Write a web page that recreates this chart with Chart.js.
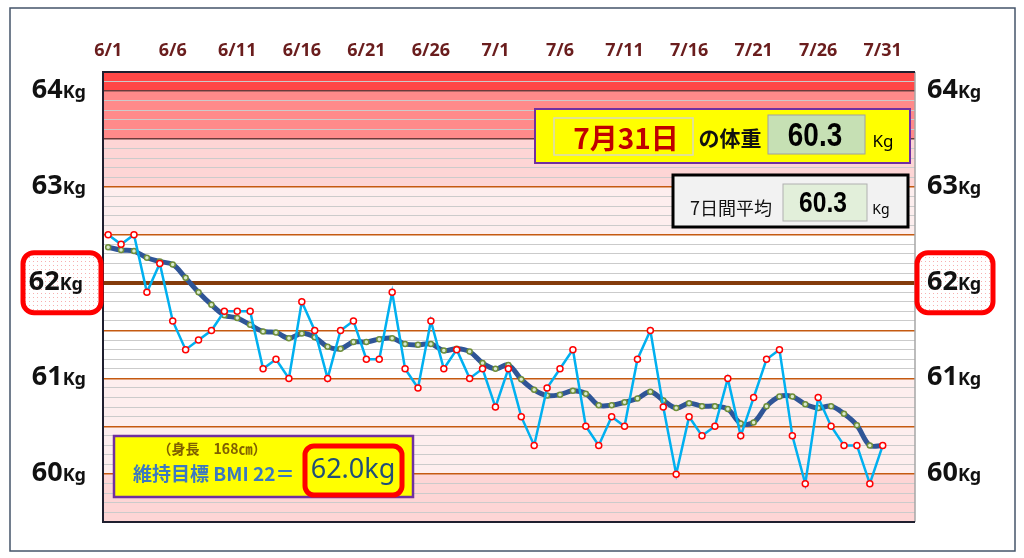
<!DOCTYPE html>
<html>
<head>
<meta charset="utf-8">
<script src="https://cdn.jsdelivr.net/npm/chart.js@4.4.0/dist/chart.umd.min.js"></script>
<style>
html, body { margin: 0; padding: 0; background: #fff; }
#wrap { width: 1024px; height: 558px; position: relative; }
</style>
</head>
<body>
<div id="wrap"><canvas id="c"></canvas></div>
<script>
// daily dates 6/1 .. 7/31
const dates = [
    '6/1','6/2','6/3','6/4','6/5','6/6','6/7','6/8','6/9','6/10',
    '6/11','6/12','6/13','6/14','6/15','6/16','6/17','6/18','6/19','6/20',
    '6/21','6/22','6/23','6/24','6/25','6/26','6/27','6/28','6/29','6/30',
    '7/1','7/2','7/3','7/4','7/5','7/6','7/7','7/8','7/9','7/10',
    '7/11','7/12','7/13','7/14','7/15','7/16','7/17','7/18','7/19','7/20',
    '7/21','7/22','7/23','7/24','7/25','7/26','7/27','7/28','7/29','7/30','7/31'
];

// daily weight (kg)
const weights = [
    62.5, 62.4, 62.5, 61.9, 62.2, 61.6, 61.3, 61.4, 61.5, 61.7,
    61.7, 61.7, 61.1, 61.2, 61.0, 61.8, 61.5, 61.0, 61.5, 61.6,
    61.2, 61.2, 61.9, 61.1, 60.9, 61.6, 61.1, 61.3, 61.0, 61.1,
    60.7, 61.1, 60.6, 60.3, 60.9, 61.1, 61.3, 60.5, 60.3, 60.6,
    60.5, 61.2, 61.5, 60.7, 60.0, 60.6, 60.4, 60.5, 61.0, 60.4,
    60.8, 61.2, 61.3, 60.4, 59.9, 60.8, 60.5, 60.3, 60.3, 59.9, 60.3
];

// 7 day average (kg)
const average7 = [
    62.37, 62.34, 62.33, 62.26, 62.22, 62.19, 62.05, 61.90, 61.77, 61.66,
    61.63, 61.56, 61.49, 61.48, 61.42, 61.47, 61.43, 61.33, 61.31, 61.38,
    61.38, 61.41, 61.42, 61.36, 61.35, 61.36, 61.29, 61.31, 61.28, 61.16,
    61.10, 61.14, 60.99, 60.88, 60.82, 60.83, 60.87, 60.84, 60.72, 60.72,
    60.75, 60.79, 60.86, 60.77, 60.69, 60.74, 60.71, 60.71, 60.68, 60.53,
    60.54, 60.71, 60.81, 60.81, 60.73, 60.69, 60.71, 60.63, 60.51, 60.30, 60.30
];

const dateTicks = ['6/1','6/6','6/11','6/16','6/21','6/26','7/1','7/6','7/11','7/16','7/21','7/26','7/31'];
const weightTicks = [60, 61, 62, 63, 64];
const targetWeight = 62;

// background bands [from, to, colour]
const bands = [
    [64.0, 64.2, '#ff4747'],
    [63.5, 64.0, '#ff8a8a'],
    [63.0, 63.5, '#fdd5d5'],
    [62.5, 63.0, '#fdeeee'],
    [61.0, 62.5, '#ffffff'],
    [60.0, 61.0, '#fdeeee'],
    [59.5, 60.0, '#fdd5d5']
];

const lastDay = '7月31日';
const lastWeight = '60.3';
const lastAverage = '60.3';

const NUM = '"Noto Sans", "DejaVu Sans", sans-serif';
const JP = '"Noto Sans CJK JP", "Noto Sans", sans-serif';
const NARROW = '"Liberation Sans", Arial, sans-serif';

const tenth = v => Math.round(v * 10);

const gridColor = v => {
    const t = tenth(v);
    if (t === 620) return '#843c0c';
    if (t === 635 || t === 640) return '#6a3a3a';
    if (t % 5 === 0) return '#c55a11';
    return '#cbcbcb';
};
const gridWidth = v => {
    const t = tenth(v);
    if (t === 620) return 4;
    if (t % 5 === 0) return 1.5;
    return 1;
};

const rrect = (ctx, x, y, w, h, r) => {
    ctx.beginPath();
    ctx.roundRect(x, y, w, h, r);
};

// squeezed text, like a narrow font
const narrowText = (ctx, text, cx, cy, font, squeeze) => {
    ctx.save();
    ctx.translate(cx, cy);
    ctx.scale(squeeze, 1);
    ctx.font = font;
    ctx.textAlign = 'center';
    ctx.textBaseline = 'middle';
    ctx.fillText(text, 0, 0);
    ctx.restore();
};

const dotPattern = (ctx) => {
    const p = document.createElement('canvas');
    p.width = 4; p.height = 4;
    const pc = p.getContext('2d');
    pc.fillStyle = '#ffffff';
    pc.fillRect(0, 0, 4, 4);
    pc.fillStyle = '#f7b0b0';
    pc.fillRect(1, 1, 1, 1);
    return ctx.createPattern(p, 'repeat');
};

const bandsPlugin = {
    id: 'bands',
    beforeDraw(chart) {
        const { ctx, chartArea: a, scales: { y } } = chart;
        ctx.save();
        ctx.fillStyle = '#ffffff';
        ctx.fillRect(0, 0, chart.width, chart.height);
        bands.forEach(([lo, hi, color]) => {
            const top = y.getPixelForValue(hi);
            const bot = y.getPixelForValue(lo);
            ctx.fillStyle = color;
            ctx.fillRect(a.left, top, a.right - a.left, bot - top);
        });
        ctx.restore();
    }
};

const decorPlugin = {
    id: 'decor',
    afterDraw(chart) {
        const { ctx, chartArea: a, scales: { x, y } } = chart;
        ctx.save();

        // plot frame
        ctx.strokeStyle = '#a6a6a6';
        ctx.lineWidth = 1.5;
        ctx.beginPath();
        ctx.moveTo(a.right, a.top);
        ctx.lineTo(a.right, a.bottom);
        ctx.stroke();
        ctx.strokeStyle = '#1f1f2f';
        ctx.lineWidth = 2;
        ctx.beginPath();
        ctx.moveTo(a.right, a.top);
        ctx.lineTo(a.left, a.top);
        ctx.lineTo(a.left, a.bottom);
        ctx.lineTo(a.right, a.bottom);
        ctx.stroke();

        // outer frame
        ctx.strokeStyle = '#44546a';
        ctx.lineWidth = 1.5;
        ctx.strokeRect(10, 8, 1005, 543);

        // date labels on top
        ctx.fillStyle = '#6a1d1d';
        ctx.font = 'bold 18px ' + NUM;
        ctx.textAlign = 'center';
        ctx.textBaseline = 'alphabetic';
        dateTicks.forEach(d => {
            ctx.fillText(d, x.getPixelForValue(dates.indexOf(d)), 56);
        });

        // target boxes at 62
        const ty = y.getPixelForValue(targetWeight);
        const pat = dotPattern(ctx);
        [[23, 78], [917, 76]].forEach(([bx, bw]) => {
            rrect(ctx, bx, ty - 30, bw, 60, 11);
            ctx.fillStyle = pat;
            ctx.fill();
            ctx.strokeStyle = '#ff0000';
            ctx.lineWidth = 5;
            ctx.stroke();
        });

        // weight labels left and right
        ctx.fillStyle = '#111111';
        weightTicks.forEach(w => {
            const py = y.getPixelForValue(w) + 7;
            const big = String(w);
            ctx.textAlign = 'left';
            ctx.font = 'bold 18px ' + NUM;
            const kgW = ctx.measureText('Kg').width;
            ctx.font = 'bold 27px ' + NUM;
            const bigW = ctx.measureText(big).width;
            const lx = (w === targetWeight ? 83 : 86) - kgW - bigW;
            const rx = 927;
            [lx, rx].forEach(sx => {
                ctx.font = 'bold 27px ' + NUM;
                ctx.fillText(big, sx, py);
                ctx.font = 'bold 18px ' + NUM;
                ctx.fillText('Kg', sx + bigW, py);
            });
        });

        // latest weight box
        ctx.fillStyle = '#ffff00';
        ctx.fillRect(535, 109, 375, 54);
        ctx.strokeStyle = '#7030a0';
        ctx.lineWidth = 2;
        ctx.strokeRect(535, 109, 375, 54);
        ctx.strokeStyle = '#d9d9c0';
        ctx.lineWidth = 1.5;
        ctx.strokeRect(554, 118, 139, 37);
        ctx.fillStyle = '#c00000';
        ctx.font = 'bold 28px ' + JP;
        ctx.textAlign = 'center';
        ctx.textBaseline = 'middle';
        ctx.fillText(lastDay, 626, 138);
        ctx.fillStyle = '#111111';
        ctx.font = 'bold 21px ' + JP;
        ctx.fillText('の体重', 730, 138);
        ctx.fillStyle = '#c6e0b4';
        ctx.fillRect(768, 115, 97, 39);
        ctx.strokeStyle = '#a0a0a0';
        ctx.lineWidth = 1;
        ctx.strokeRect(768, 115, 97, 39);
        ctx.fillStyle = '#000000';
        narrowText(ctx, lastWeight, 815, 137, 'bold 34px ' + NARROW, 0.82);
        ctx.font = '17px ' + NUM;
        ctx.textAlign = 'center';
        ctx.textBaseline = 'middle';
        ctx.fillText('Kg', 883, 142);

        // 7 day average box
        ctx.fillStyle = '#f2f2f2';
        ctx.fillRect(673, 175, 235, 52);
        ctx.strokeStyle = '#000000';
        ctx.lineWidth = 3;
        ctx.strokeRect(673, 175, 235, 52);
        ctx.fillStyle = '#111111';
        ctx.font = '18px ' + JP;
        ctx.fillText('7日間平均', 731, 208);
        ctx.fillStyle = '#e2efda';
        ctx.fillRect(783, 184, 84, 37);
        ctx.strokeStyle = '#b0b0b0';
        ctx.lineWidth = 1;
        ctx.strokeRect(783, 184, 84, 37);
        ctx.fillStyle = '#000000';
        narrowText(ctx, lastAverage, 823, 204, 'bold 30px ' + NARROW, 0.82);
        ctx.font = '14px ' + NUM;
        ctx.textAlign = 'center';
        ctx.textBaseline = 'middle';
        ctx.fillText('Kg', 881, 210);

        // BMI target box
        ctx.fillStyle = '#ffff00';
        ctx.fillRect(114, 436, 299, 61);
        ctx.strokeStyle = '#7030a0';
        ctx.lineWidth = 2.5;
        ctx.strokeRect(114, 436, 299, 61);
        ctx.fillStyle = '#7f6000';
        ctx.font = 'bold 14px ' + JP;
        ctx.fillText('（身長　168㎝）', 212, 449);
        ctx.fillStyle = '#3b78c0';
        ctx.font = 'bold 19px ' + JP;
        ctx.textAlign = 'left';
        ctx.fillText('維持目標 BMI 22＝', 133, 474);
        rrect(ctx, 305, 446, 97, 49, 9);
        ctx.fillStyle = '#ffff00';
        ctx.fill();
        ctx.strokeStyle = '#ff0000';
        ctx.lineWidth = 5;
        ctx.stroke();
        ctx.fillStyle = '#1f4e79';
        ctx.font = '27px ' + NUM;
        ctx.textAlign = 'center';
        ctx.fillText(targetWeight.toFixed(1) + 'kg', 353, 470);

        ctx.restore();
    }
};

const toPoints = arr => arr.map((v, i) => ({ x: i, y: v }));

new Chart(document.getElementById('c'), {
    type: 'line',
    data: {
        datasets: [
            {
                label: '体重',
                data: toPoints(weights),
                borderColor: '#00b0f0',
                borderWidth: 2.5,
                pointRadius: 3,
                pointBorderWidth: 1.5,
                pointBorderColor: '#ff0000',
                pointBackgroundColor: '#ffffff',
                tension: 0,
                order: 1
            },
            {
                label: '7日間平均',
                data: toPoints(average7),
                borderColor: '#2f5597',
                borderWidth: 5,
                pointRadius: 2.5,
                pointBorderWidth: 1.5,
                pointBorderColor: '#6f8f3a',
                pointBackgroundColor: '#d9ead0',
                tension: 0.35,
                order: 2
            }
        ]
    },
    options: {
        responsive: true,
        maintainAspectRatio: false,
        animation: false,
        devicePixelRatio: 1,
        layout: { padding: { left: 103, right: 109, top: 72, bottom: 36 } },
        plugins: {
            legend: { display: false },
            tooltip: { enabled: false }
        },
        scales: {
            x: {
                type: 'linear',
                min: -0.4,
                max: 62.5,
                display: false
            },
            y: {
                min: 59.5,
                max: 64.2,
                border: { display: false },
                ticks: { display: false, stepSize: 0.1, autoSkip: false, maxTicksLimit: 100 },
                grid: {
                    drawTicks: false,
                    color: c => gridColor(c.tick.value),
                    lineWidth: c => gridWidth(c.tick.value)
                }
            }
        }
    },
    plugins: [bandsPlugin, decorPlugin]
});
</script>
</body>
</html>
